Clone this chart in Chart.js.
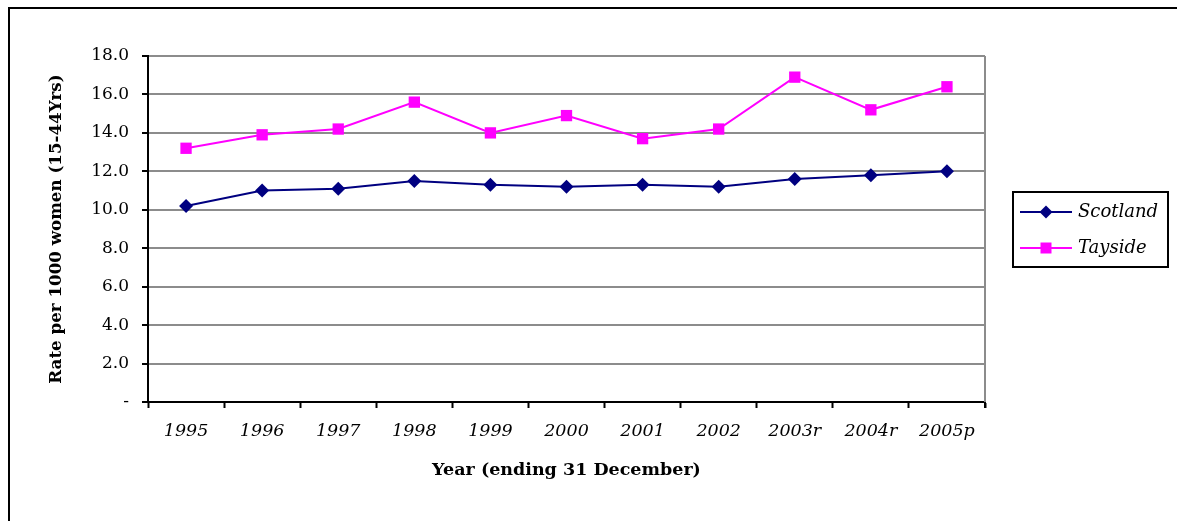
<!DOCTYPE html>
<html>
<head>
<meta charset="utf-8">
<script src="https://cdn.jsdelivr.net/npm/chart.js@4/dist/chart.umd.min.js"></script>
<style>
  html, body { margin: 0; padding: 0; background: #fff; }
  #wrap { position: relative; width: 1177px; height: 521px; overflow: hidden; }
  canvas { display: block; }
</style>
</head>
<body>
<div id="wrap"><canvas id="c" width="1177" height="521"></canvas></div>
<script>
const categories = ['1995','1996','1997','1998','1999','2000','2001','2002','2003r','2004r','2005p'];
const scotland = [10.2, 11.0, 11.1, 11.5, 11.3, 11.2, 11.3, 11.2, 11.6, 11.8, 12.0];
const tayside  = [13.2, 13.9, 14.2, 15.6, 14.0, 14.9, 13.7, 14.2, 16.9, 15.2, 16.4];
const yTicks = [0, 2, 4, 6, 8, 10, 12, 14, 16, 18];
const seriesNames = ['Scotland', 'Tayside'];
const yTitle = 'Rate per 1000 women (15-44Yrs)';
const xTitle = 'Year (ending 31 December)';

const FONT = "'DejaVu Serif', 'Liberation Serif', serif";
const NAVY = '#000080';
const MAGENTA = '#FF00FF';

const framePlugin = {
  id: 'frame',
  beforeDraw(chart) {
    const ctx = chart.ctx;
    ctx.save();
    ctx.fillStyle = '#000';
    ctx.fillRect(8, 7, chart.width, 2);
    ctx.fillRect(8, 7, 2, chart.height);
    ctx.restore();
  },
  afterDraw(chart) {
    const ctx = chart.ctx;
    const a = chart.chartArea;
    ctx.save();
    ctx.strokeStyle = '#8c8c8c';
    ctx.lineWidth = 2;
    ctx.beginPath();
    ctx.moveTo(a.right, a.top);
    ctx.lineTo(a.right, a.bottom);
    ctx.stroke();
    ctx.strokeStyle = '#000';
    ctx.beginPath();
    ctx.moveTo(a.right, a.bottom);
    ctx.lineTo(a.right, a.bottom + 6);
    ctx.stroke();

    // legend
    const bx = 1013, by = 192, bw = 155, bh = 75;
    ctx.lineWidth = 2;
    ctx.strokeStyle = '#000';
    ctx.strokeRect(bx, by, bw, bh);
    const rows = [by + 20, by + 56];
    chart.data.datasets.forEach((ds, i) => {
      const y = rows[i];
      ctx.strokeStyle = ds.borderColor;
      ctx.lineWidth = 2;
      ctx.beginPath();
      ctx.moveTo(bx + 7, y);
      ctx.lineTo(bx + 59, y);
      ctx.stroke();
      const cx = bx + 33;
      ctx.fillStyle = ds.pointBackgroundColor;
      ctx.beginPath();
      if (ds.pointStyle === 'rectRot') {
        const r = 6.5;
        ctx.moveTo(cx, y - r); ctx.lineTo(cx + r, y); ctx.lineTo(cx, y + r); ctx.lineTo(cx - r, y);
        ctx.closePath();
      } else {
        ctx.rect(cx - 5.5, y - 5.5, 11, 11);
      }
      ctx.fill();
      ctx.fillStyle = '#000';
      ctx.font = "italic 18px " + FONT;
      ctx.textAlign = 'left';
      ctx.textBaseline = 'middle';
      ctx.fillText(ds.label, bx + 65, y);
    });
    ctx.restore();
  }
};

new Chart(document.getElementById('c'), {
  type: 'line',
  data: {
    labels: categories,
    datasets: [
      {
        label: seriesNames[0],
        data: scotland,
        borderColor: NAVY,
        backgroundColor: NAVY,
        pointBackgroundColor: NAVY,
        pointBorderColor: NAVY,
        borderWidth: 2,
        pointStyle: 'rectRot',
        pointRadius: 7,
        pointBorderWidth: 0,
        tension: 0
      },
      {
        label: seriesNames[1],
        data: tayside,
        borderColor: MAGENTA,
        backgroundColor: MAGENTA,
        pointBackgroundColor: MAGENTA,
        pointBorderColor: MAGENTA,
        borderWidth: 2,
        pointStyle: 'rect',
        pointRadius: 8,
        pointBorderWidth: 0,
        tension: 0
      }
    ]
  },
  options: {
    responsive: false,
    animation: false,
    devicePixelRatio: 1,
    layout: { padding: { left: 10, top: 56, right: 192, bottom: 0 } },
    plugins: { legend: { display: false }, tooltip: { enabled: false } },
    scales: {
      x: {
        type: 'category',
        offset: true,
        afterFit(scale) { scale.height = 119; },
        grid: {
          offset: true,
          drawOnChartArea: false,
          drawTicks: true,
          tickLength: 6,
          tickColor: '#000',
          tickWidth: 2,
          color: '#000'
        },
        border: { display: true, color: '#000', width: 2 },
        ticks: {
          color: '#000',
          font: { family: FONT, size: 17.5, style: 'italic' },
          padding: 13,
          maxRotation: 0,
          autoSkip: false
        },
        title: {
          display: true,
          text: xTitle,
          color: '#000',
          font: { family: FONT, size: 17.5, weight: 'bold' },
          padding: { top: 0, bottom: 40 }
        }
      },
      y: {
        min: 0,
        max: 18,
        afterFit(scale) { scale.width = 138; },
        afterBuildTicks(scale) { scale.ticks = yTicks.map(v => ({ value: v })); },
        grid: {
          color: (c) => (c.tick && c.tick.value === 0) ? '#000' : '#8c8c8c',
          lineWidth: 2,
          drawTicks: true,
          tickLength: 6,
          tickColor: '#000',
          tickWidth: 2
        },
        border: { display: true, color: '#000', width: 2 },
        ticks: {
          color: '#000',
          font: { family: FONT, size: 17 },
          padding: 13,
          callback: (v) => v === 0 ? '-' : Number(v).toFixed(1)
        },
        title: {
          display: true,
          text: yTitle,
          color: '#000',
          font: { family: FONT, size: 16.7, weight: 'bold' },
          padding: { top: 37, bottom: 0 }
        }
      }
    }
  },
  plugins: [framePlugin]
});
</script>
</body>
</html>
